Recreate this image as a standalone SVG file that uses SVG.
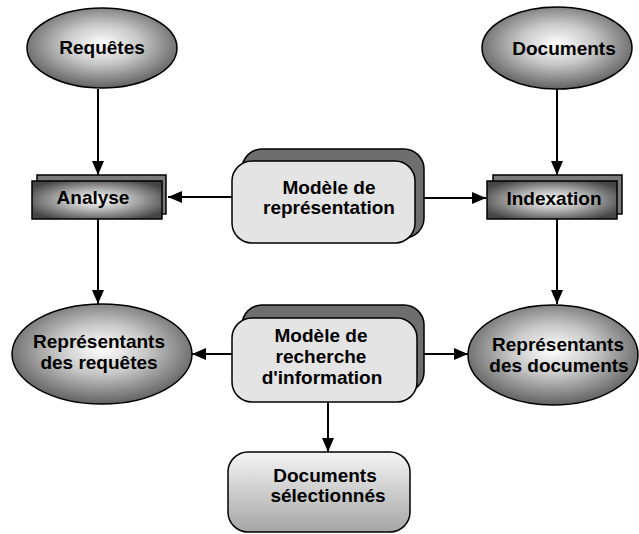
<svg xmlns="http://www.w3.org/2000/svg" width="639" height="534" viewBox="0 0 639 534">
<style>
.t{font-family:"Liberation Sans",Arial,sans-serif;font-weight:bold;font-size:19px;fill:#000;text-anchor:middle}
.ell{fill:url(#eg);stroke:#000;stroke-width:1.5}
.pb{fill:url(#bg);stroke:#000;stroke-width:1.5}
.pbk{fill:#7a7a7a;stroke:#000;stroke-width:1.5}
.mf{fill:#e4e4e4;stroke:#000;stroke-width:1.5}
.mb{fill:#6e6e6e;stroke:#000;stroke-width:1.5}
.c{stroke:#000;stroke-width:2;fill:none;marker-end:url(#ah)}
</style>
<defs>
<radialGradient id="eg" cx="50%" cy="45%" r="55%">
<stop offset="0" stop-color="#ffffff"/>
<stop offset="0.45" stop-color="#c8c8c8"/>
<stop offset="1" stop-color="#626262"/>
</radialGradient>
<radialGradient id="bg" cx="50%" cy="50%" r="60%">
<stop offset="0" stop-color="#ffffff"/>
<stop offset="0.45" stop-color="#b4b4b4"/>
<stop offset="1" stop-color="#444444"/>
</radialGradient>
<linearGradient id="lg" x1="0" y1="0" x2="0" y2="1">
<stop offset="0" stop-color="#f4f4f4"/>
<stop offset="1" stop-color="#a6a6a6"/>
</linearGradient>
<marker id="ah" viewBox="0 0 14 12" refX="14" refY="6" markerWidth="14" markerHeight="12" markerUnits="userSpaceOnUse" orient="auto">
<path d="M0,0 L14,6 L0,12 Z" fill="#000"/>
</marker>
</defs>
<g id="connectors">
<line class="c" x1="98" y1="89" x2="98" y2="175"/>
<line class="c" x1="557" y1="89" x2="557" y2="175"/>
<line class="c" x1="98" y1="219" x2="98" y2="304"/>
<line class="c" x1="557" y1="219" x2="557" y2="304"/>
<line class="c" x1="232" y1="197" x2="168" y2="197"/>
<line class="c" x1="415" y1="198" x2="486" y2="198"/>
<line class="c" x1="232" y1="354" x2="192" y2="354"/>
<line class="c" x1="417" y1="354" x2="468" y2="354"/>
<line class="c" x1="328" y1="402" x2="328" y2="452"/>
</g>
<g id="requetes">
<ellipse class="ell" cx="102" cy="48" rx="75" ry="40"/>
<text class="t" x="102" y="54">Requêtes</text>
</g>
<g id="documents">
<ellipse class="ell" cx="557" cy="48" rx="75" ry="41"/>
<text class="t" x="564" y="55">Documents</text>
</g>
<g id="analyse">
<rect class="pbk" x="37" y="175" width="129" height="39"/>
<rect class="pb" x="32" y="181" width="130" height="38"/>
<text class="t" x="93" y="204">Analyse</text>
</g>
<g id="indexation">
<rect class="pbk" x="493" y="175" width="129" height="39"/>
<rect class="pb" x="487" y="181" width="130" height="38"/>
<text class="t" x="554" y="205">Indexation</text>
</g>
<g id="modele-representation">
<rect class="mb" x="242" y="149" width="182" height="89" rx="20"/>
<rect class="mf" x="232" y="161" width="183" height="82" rx="20"/>
<text class="t" x="329" y="194">Modèle de</text>
<text class="t" x="329" y="214">représentation</text>
</g>
<g id="representants-requetes">
<ellipse class="ell" cx="102" cy="354" rx="90" ry="50"/>
<text class="t" x="99" y="348">Représentants</text>
<text class="t" x="99" y="369">des requêtes</text>
</g>
<g id="modele-recherche">
<rect class="mb" x="242" y="305" width="182" height="87" rx="20"/>
<rect class="mf" x="232" y="318" width="185" height="84" rx="20"/>
<text class="t" x="321" y="342">Modèle de</text>
<text class="t" x="321" y="363">recherche</text>
<text class="t" x="322" y="384">d'information</text>
</g>
<g id="representants-documents">
<ellipse class="ell" cx="553" cy="355" rx="85" ry="50"/>
<text class="t" x="558" y="351">Représentants</text>
<text class="t" x="559" y="372">des documents</text>
</g>
<g id="documents-selectionnes">
<rect x="228" y="452" width="182" height="80" rx="20" fill="url(#lg)" stroke="#000" stroke-width="1.5"/>
<text class="t" x="325" y="482">Documents</text>
<text class="t" x="328" y="502">sélectionnés</text>
</g>
</svg>
